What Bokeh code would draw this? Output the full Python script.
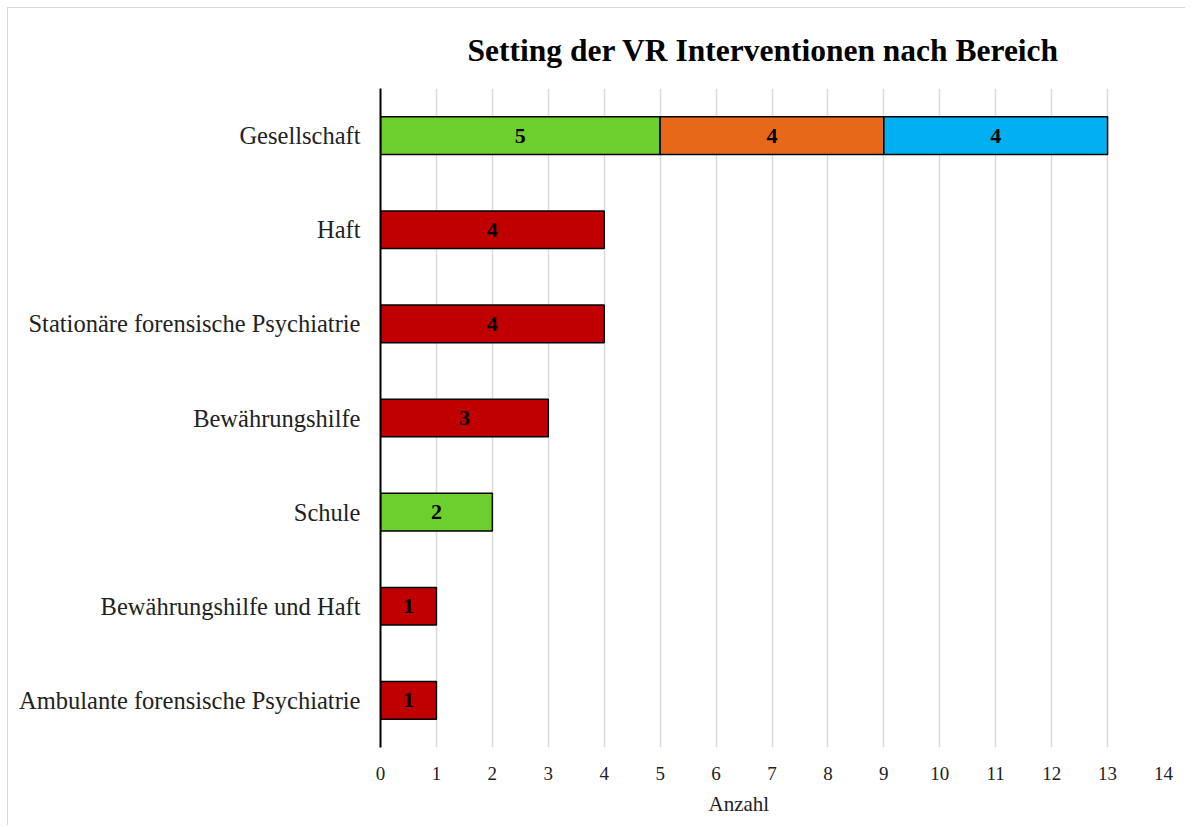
import numpy as np
from bokeh.plotting import figure
from bokeh.models import Range1d, FactorRange, ColumnDataSource, Title, FixedTicker
from bokeh.core.properties import value
from bokeh.embed import file_html
from bokeh.resources import INLINE

categories = [
    "Gesellschaft",
    "Haft",
    "Stationäre forensische Psychiatrie",
    "Bewährungshilfe",
    "Schule",
    "Bewährungshilfe und Haft",
    "Ambulante forensische Psychiatrie",
]
series_green = [5, 0, 0, 0, 2, 0, 0]
series_orange = [4, 0, 0, 0, 0, 0, 0]
series_blue = [4, 0, 0, 0, 0, 0, 0]
series_red = [0, 4, 4, 3, 0, 1, 1]
x_ticks = list(range(0, 15))

colors = ["#6DCF2E", "#E8681A", "#00B0F0", "#C00000"]
series = [series_green, series_orange, series_blue, series_red]

SERIF = "Liberation Serif"

p = figure(
    width=1178, height=818,
    y_range=FactorRange(factors=list(reversed(categories)), range_padding=0),
    x_range=Range1d(0, 14),
    output_backend="svg", toolbar_location=None,
    min_border_left=372, min_border_right=23, min_border_top=80, min_border_bottom=79,
)
p.styles = {"border-top": "1px solid #d9d9d9", "border-left": "1px solid #d9d9d9",
            "margin-left": "7px", "margin-top": "7px"}
p.outline_line_color = None

left = np.zeros(len(categories))
for vals, col in zip(series, colors):
    vals = np.array(vals, dtype=float)
    right = left + vals
    mask = vals > 0
    src = ColumnDataSource(dict(
        y=[c for c, m in zip(categories, mask) if m],
        left=left[mask], right=right[mask],
        mid=((left + right) / 2)[mask],
        lab=[str(int(v)) for v in vals[mask]],
    ))
    p.hbar(y="y", left="left", right="right", height=0.4, source=src,
           fill_color=col, line_color="black", line_width=1.5)
    p.text(x="mid", y="y", text="lab", source=src, text_align="center",
           text_baseline="middle", text_font=value(SERIF), text_font_style="bold",
           text_font_size="22px", text_color="black")
    left = right

p.title.text = "Setting der VR Interventionen nach Bereich"
p.title.align = "left"
p.title.offset = 87
p.title.text_font = SERIF
p.title.text_font_style = "bold"
p.title.text_font_size = "31.5px"
p.title.text_color = "black"
p.title.standoff = 41

p.xgrid.grid_line_color = "#d9d9d9"
p.xgrid.grid_line_width = 1.5
p.ygrid.grid_line_color = None
p.xaxis.ticker = FixedTicker(ticks=x_ticks)
p.xaxis.axis_line_color = None
p.xaxis.major_tick_line_color = None
p.xaxis.minor_tick_line_color = None
p.xaxis.major_tick_out = 0
p.xaxis.major_tick_in = 0
p.xaxis.major_label_standoff = 19
p.xaxis.major_label_text_font = SERIF
p.xaxis.major_label_text_font_size = "19px"
p.xaxis.major_label_text_color = "#222222"

p.yaxis.axis_line_color = "black"
p.yaxis.axis_line_width = 2
p.yaxis.major_tick_line_color = None
p.yaxis.minor_tick_line_color = None
p.yaxis.major_tick_out = 0
p.yaxis.major_tick_in = 0
p.yaxis.major_label_standoff = 20
p.yaxis.major_label_text_font = SERIF
p.yaxis.major_label_text_font_size = "24.5px"
p.yaxis.major_label_text_color = "#222222"

xlabel = Title(text="Anzahl", align="left", offset=328, standoff=15,
               text_font=SERIF, text_font_size="21px", text_font_style="normal",
               text_color="#222222")
p.add_layout(xlabel, "below")

open("out.html", "w").write(file_html(p, INLINE))
